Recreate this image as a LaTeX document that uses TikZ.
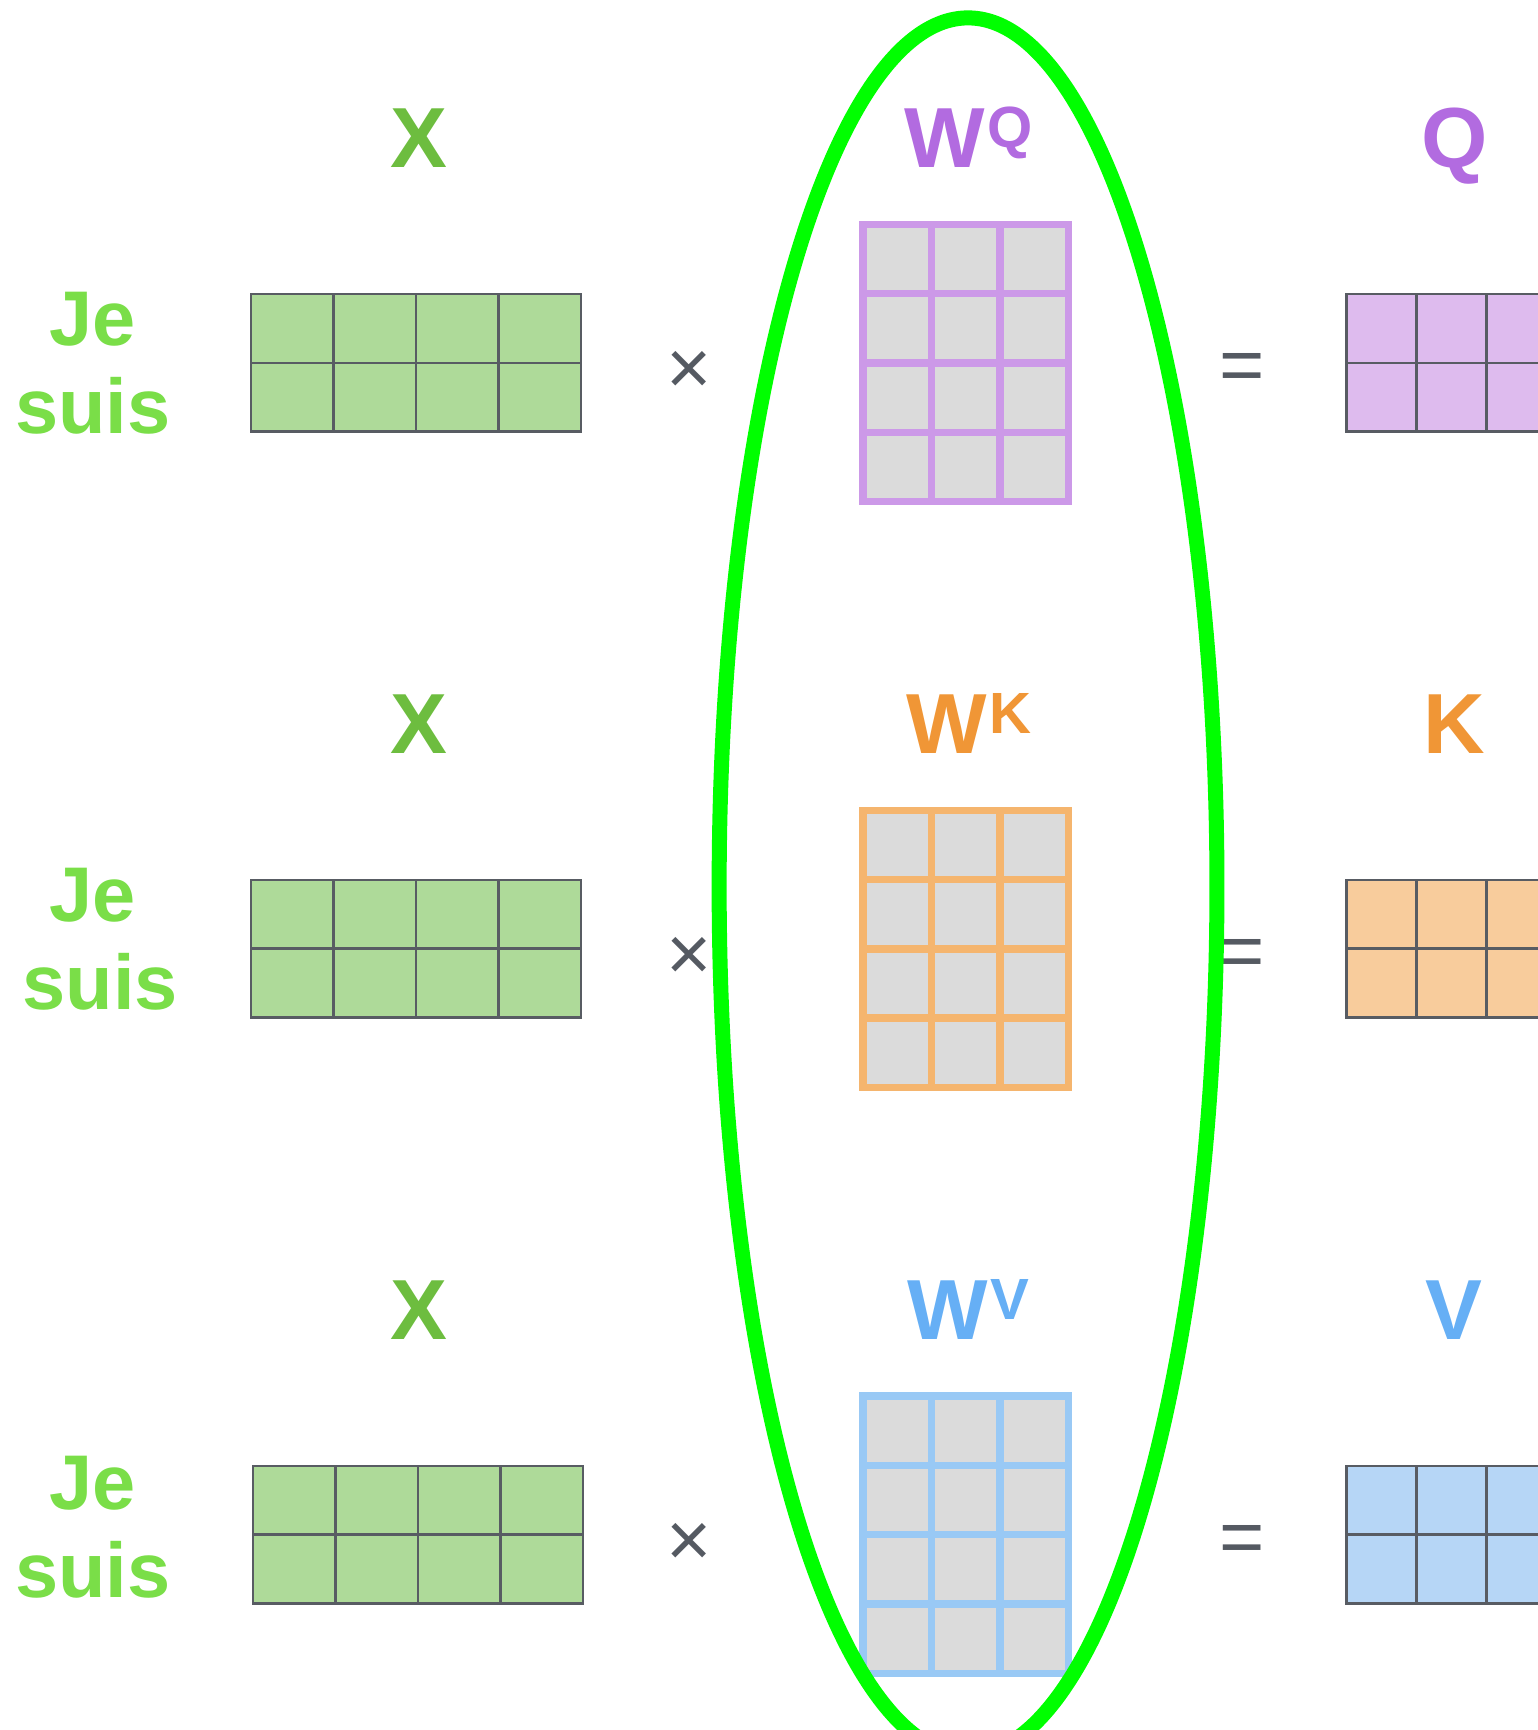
\documentclass[tikz,border=0pt]{standalone}
\usepackage{fontspec}
\setmainfont{Liberation Sans}
\usetikzlibrary{calc}

\begin{document}
\begin{tikzpicture}[x=0.1mm,y=-0.1mm,
    lbl/.style={font=\fontsize{22}{26}\selectfont\bfseries, anchor=base, inner sep=0pt},
    word/.style={font=\fontsize{20}{23}\selectfont\bfseries, text=wordgreen, anchor=base, inner sep=0pt},
    op/.style={font=\fontsize{20}{24}\selectfont, text=opgray, inner sep=0pt},
    xgrid/.style={gridgray, line width=0.65pt},
    wgrid/.style={line width=1.93pt}]
  \definecolor{xgreen}{RGB}{109,189,63}
  \definecolor{wordgreen}{RGB}{122,222,72}
  \definecolor{xfill}{RGB}{174,218,153}
  \definecolor{gridgray}{RGB}{88,92,99}
  \definecolor{opgray}{RGB}{85,90,98}
  \definecolor{wfill}{RGB}{219,219,219}
  \definecolor{qtext}{RGB}{178,107,224}
  \definecolor{qborder}{RGB}{204,153,232}
  \definecolor{qfill}{RGB}{222,187,238}
  \definecolor{ktext}{RGB}{240,150,54}
  \definecolor{kborder}{RGB}{245,181,110}
  \definecolor{kfill}{RGB}{248,204,156}
  \definecolor{vtext}{RGB}{102,175,245}
  \definecolor{vborder}{RGB}{153,201,245}
  \definecolor{vfill}{RGB}{182,214,246}
  \definecolor{ringgreen}{RGB}{0,255,0}
  \def\xcw{74.75}
  \def\xch{62.4}
  \def\wcw{62.07}
  \def\wch{62.8}
  \def\qcw{63.3}
  \clip (0,0) rectangle (1394,1568);
  \foreach \i/\mname/\tcol/\bcol/\fcol/\dy/\jy/\sx/\mx in
      {1/Q/qtext/qborder/qfill/0/313/0/0,
       2/K/ktext/kborder/kfill/531/304/7/0,
       3/V/vtext/vborder/vfill/1062/306/0/2}{
    \begin{scope}[shift={(0,\dy)}]
      \node[word] (je\i) at (84,\jy) {Je};
      \node[word] (suis\i) at ({84+\sx},{\jy+80}) {suis};
      \node[lbl, text=xgreen] (x\i) at (380,152) {X};
      % input matrix
      \begin{scope}[shift={(\mx,0)}]
        \fill[xfill] (227.5,266.5) rectangle ({227.5+4*\xcw},{266.5+2*\xch});
        \foreach \c in {1,2,3}
          \draw[xgrid] ({227.5+\c*\xcw},266.5) -- ++(0,{2*\xch});
        \draw[xgrid] (227.5,{266.5+\xch}) -- ++({4*\xcw},0);
        \draw[xgrid] (227.5,266.5) rectangle ({227.5+4*\xcw},{266.5+2*\xch});
      \end{scope}
      \node[op] (times\i) at (625,338) {×};
      % weight matrix
      \node[lbl, text=\tcol] (w\i) at (878,152)
        {W\kern0.6pt\raisebox{5.2pt}{\fontsize{15}{18}\selectfont\mname}};
      \fill[wfill] (782.4,203.4) rectangle ({782.4+3*\wcw},{203.4+4*\wch});
      \foreach \c in {1,2}
        \draw[wgrid, \bcol] ({782.4+\c*\wcw},203.4) -- ++(0,{4*\wch});
      \foreach \r in {1,2,3}
        \draw[wgrid, \bcol] (782.4,{203.4+\r*\wch}) -- ++({3*\wcw},0);
      \draw[wgrid, \bcol] (782.4,203.4) rectangle ({782.4+3*\wcw},{203.4+4*\wch});
      \node[op] (eq\i) at (1125.5,338) {=};
      % result matrix
      \node[lbl, text=\tcol] (\mname) at (1318,152) {\mname};
      \fill[\fcol] (1220.5,266.5) rectangle ({1220.5+3*\qcw},{266.5+2*\xch});
      \foreach \c in {1,2}
        \draw[xgrid] ({1220.5+\c*\qcw},266.5) -- ++(0,{2*\xch});
      \draw[xgrid] (1220.5,{266.5+\xch}) -- ++({3*\qcw},0);
      \draw[xgrid] (1220.5,266.5) rectangle ({1220.5+3*\qcw},{266.5+2*\xch});
    \end{scope}
  }
  \draw[ringgreen, line width=3.87pt] (877.4,803.5) ellipse [x radius=225.6, y radius=787.3];
\end{tikzpicture}
\end{document}
